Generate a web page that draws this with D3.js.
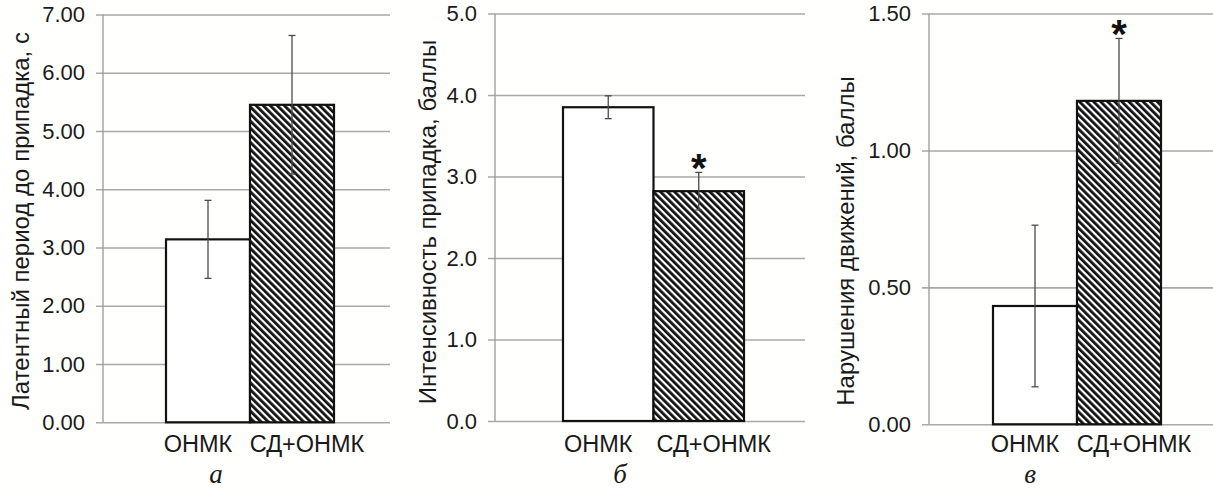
<!DOCTYPE html>
<html>
<head>
<meta charset="utf-8">
<script src="https://cdn.jsdelivr.net/npm/d3@7/dist/d3.min.js"></script>
<style>
  body { margin: 0; background: #ffffff; }
  svg { display: block; }
</style>
</head>
<body>
<div id="container"></div>
<script>
// data
const categories = ["ОНМК", "СД+ОНМК"];

const latencyMeans = [3.14, 5.45];
const latencyErrors = [0.67, 1.19];

const intensityMeans = [3.85, 2.82];
const intensityErrors = [0.14, 0.23];

const movementMeans = [0.432, 1.181];
const movementErrors = [0.295, 0.228];

const latencyTicks = [0, 1, 2, 3, 4, 5, 6, 7];
const intensityTicks = [0, 1, 2, 3, 4, 5];
const movementTicks = [0, 0.5, 1, 1.5];

const latencyStars = [false, false];
const intensityStars = [false, true];
const movementStars = [false, true];

const panelTitles = ["Латентный период до припадка, с", "Интенсивность припадка, баллы", "Нарушения движений, баллы"];
const panelLetters = ["а", "б", "в"];

let svg = d3.select("#container")
  .append("svg")
  .attr("width", 1213)
  .attr("height", 488);

svg.append("rect").attr("width", 1213).attr("height", 488).attr("fill", "#fffffd");

// hatch pattern "\\\\"
svg.append("defs")
  .append("pattern")
  .attr("id", "hatch")
  .attr("patternUnits", "userSpaceOnUse")
  .attr("width", 5)
  .attr("height", 5)
  .attr("patternTransform", "rotate(-45)")
  .call(p => {
    p.append("rect").attr("width", 5).attr("height", 5).attr("fill", "white");
    p.append("line").attr("x1", 1.4).attr("x2", 1.4).attr("y1", 0).attr("y2", 5)
      .attr("stroke", "#111").attr("stroke-width", 2.8);
  });

const font = "'Liberation Sans', Arial, sans-serif";
const textColor = "#1a1a1a";

function drawPanel(cfg) {
  let g = svg.append("g");

  let y = d3.scaleLinear().domain([0, cfg.max]).range([cfg.y0, cfg.yTop]);
  let x = d3.scaleBand().domain(categories).range([cfg.barLeft, cfg.barLeft + 2 * cfg.barWidth]).padding(0);

  // gridlines + tick labels
  let axis = d3.axisLeft(y)
    .tickValues(cfg.ticks)
    .tickSize(-(cfg.right - cfg.axisX))
    .tickFormat(d3.format(cfg.fmt))
    .tickPadding(18);
  let ax = g.append("g")
    .attr("transform", "translate(" + cfg.axisX + ",0)")
    .call(axis);
  ax.select(".domain").remove();
  ax.selectAll(".tick line")
    .attr("x1", -7)
    .attr("stroke", "#a9a9a9")
    .attr("stroke-width", 1.6);
  ax.selectAll(".tick text")
    .attr("font-family", font)
    .attr("font-size", 22)
    .attr("fill", textColor);

  // vertical axis line
  g.append("line")
    .attr("x1", cfg.axisX).attr("x2", cfg.axisX)
    .attr("y1", cfg.yTop).attr("y2", cfg.y0)
    .attr("stroke", "#9a9a9a")
    .attr("stroke-width", 1.3);

  // bars
  g.selectAll(".bar").data(cfg.means).enter()
    .append("rect")
    .attr("class", "bar")
    .attr("x", (d, i) => x(categories[i]))
    .attr("y", d => y(d))
    .attr("width", x.bandwidth())
    .attr("height", d => y(0) - y(d))
    .attr("fill", (d, i) => i === 0 ? "white" : "url(#hatch)")
    .attr("stroke", "#111")
    .attr("stroke-width", 2.2);

  // error bars
  let eb = g.selectAll(".err").data(cfg.means).enter()
    .append("g").attr("class", "err");
  const cx = (d, i) => x(categories[i]) + x.bandwidth() / 2;
  eb.append("line")
    .attr("x1", cx).attr("x2", cx)
    .attr("y1", (d, i) => y(d + cfg.errors[i]))
    .attr("y2", (d, i) => y(d - cfg.errors[i]))
    .attr("stroke", "#4a4a4a").attr("stroke-width", 1.3);
  [1, -1].forEach(s => {
    eb.append("line")
      .attr("x1", (d, i) => cx(d, i) - 3.5).attr("x2", (d, i) => cx(d, i) + 3.5)
      .attr("y1", (d, i) => y(d + s * cfg.errors[i]))
      .attr("y2", (d, i) => y(d + s * cfg.errors[i]))
      .attr("stroke", "#4a4a4a").attr("stroke-width", 1.3);
  });

  // significance stars
  let starData = cfg.means
    .map((m, i) => ({ cat: categories[i], top: m + cfg.errors[i], show: cfg.stars[i] }))
    .filter(d => d.show);
  g.selectAll(".star").data(starData).enter()
    .append("text")
    .attr("class", "star")
    .attr("x", d => x(d.cat) + x.bandwidth() / 2)
    .attr("y", d => y(d.top) + 10)
    .attr("text-anchor", "middle")
    .attr("font-family", font)
    .attr("font-weight", "bold")
    .attr("font-size", 40)
    .attr("fill", "#111")
    .text("*");

  // category labels
  const labelShift = [-10, 15];
  g.selectAll(".cat").data(categories).enter()
    .append("text")
    .attr("class", "cat")
    .attr("x", (d, i) => x(d) + x.bandwidth() / 2 + labelShift[i])
    .attr("y", 452)
    .attr("text-anchor", "middle")
    .attr("font-family", font)
    .attr("font-size", 23.5)
    .attr("fill", textColor)
    .text(d => d);

  // y title
  g.append("text")
    .attr("transform", "translate(" + cfg.titleX + "," + cfg.titleY + ") rotate(-90)")
    .attr("text-anchor", "middle")
    .attr("font-family", font)
    .attr("font-size", 24)
    .attr("fill", textColor)
    .text(cfg.title);

  // panel letter
  g.append("text")
    .attr("x", cfg.letterX)
    .attr("y", 483)
    .attr("text-anchor", "middle")
    .attr("font-family", "'Liberation Serif', 'Times New Roman', serif")
    .attr("font-style", "italic")
    .attr("font-size", 27)
    .attr("fill", textColor)
    .text(cfg.letter);
}

drawPanel({
  means: latencyMeans, errors: latencyErrors, stars: latencyStars,
  ticks: latencyTicks, max: 7, fmt: ".2f",
  axisX: 103, right: 390, y0: 422.3, yTop: 14.5,
  barLeft: 166, barWidth: 84,
  title: panelTitles[0], titleX: 29, titleY: 221,
  letter: panelLetters[0], letterX: 216
});

drawPanel({
  means: intensityMeans, errors: intensityErrors, stars: intensityStars,
  ticks: intensityTicks, max: 5, fmt: ".1f",
  axisX: 495, right: 805, y0: 421, yTop: 13.5,
  barLeft: 563, barWidth: 90.5,
  title: panelTitles[1], titleX: 436, titleY: 222,
  letter: panelLetters[1], letterX: 620
});

drawPanel({
  means: movementMeans, errors: movementErrors, stars: movementStars,
  ticks: movementTicks, max: 1.5, fmt: ".2f",
  axisX: 929, right: 1213, y0: 424.3, yTop: 13.5,
  barLeft: 993, barWidth: 84,
  title: panelTitles[2], titleX: 854, titleY: 241,
  letter: panelLetters[2], letterX: 1030
});
</script>
</body>
</html>
